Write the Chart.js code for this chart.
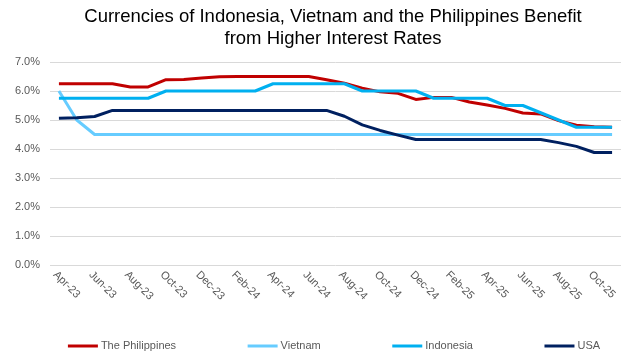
<!DOCTYPE html>
<html lang="en">
<head>
    <meta charset="UTF-8">
    <title>Currencies of Indonesia, Vietnam and the Philippines</title>
    <script src="https://cdn.jsdelivr.net/npm/chart.js"></script>
    <style>
        html, body { margin: 0; padding: 0; background: #fff; }
        #wrap { width: 640px; height: 354px; position: relative; }
    </style>
</head>
<body>
    <div id="wrap">
        <canvas id="ratesChart"></canvas>
    </div>

    <script>
        // Chart data (policy / market rates, %)
        const titleLines = ['Currencies of Indonesia, Vietnam and the Philippines Benefit', 'from Higher Interest Rates'];

        const months = ['Apr-23', 'May-23', 'Jun-23', 'Jul-23', 'Aug-23', 'Sep-23', 'Oct-23', 'Nov-23',
            'Dec-23', 'Jan-24', 'Feb-24', 'Mar-24', 'Apr-24', 'May-24', 'Jun-24', 'Jul-24',
            'Aug-24', 'Sep-24', 'Oct-24', 'Nov-24', 'Dec-24', 'Jan-25', 'Feb-25', 'Mar-25',
            'Apr-25', 'May-25', 'Jun-25', 'Jul-25', 'Aug-25', 'Sep-25', 'Oct-25', 'Nov-25'];

        const philippines = [6.25, 6.25, 6.25, 6.25, 6.14, 6.14, 6.39, 6.40, 6.45, 6.49, 6.50, 6.50, 6.50, 6.50, 6.50, 6.39,
            6.27, 6.10, 5.97, 5.92, 5.71, 5.78, 5.78, 5.62, 5.52, 5.40, 5.24, 5.21, 4.98, 4.82, 4.77, 4.75];
        const vietnam = [6.00, 5.00, 4.50, 4.50, 4.50, 4.50, 4.50, 4.50, 4.50, 4.50, 4.50, 4.50, 4.50, 4.50, 4.50, 4.50,
            4.50, 4.50, 4.50, 4.50, 4.50, 4.50, 4.50, 4.50, 4.50, 4.50, 4.50, 4.50, 4.50, 4.50, 4.50, 4.50];
        const indonesia = [5.75, 5.75, 5.75, 5.75, 5.75, 5.75, 6.00, 6.00, 6.00, 6.00, 6.00, 6.00, 6.25, 6.25, 6.25, 6.25,
            6.25, 6.00, 6.00, 6.00, 6.00, 5.75, 5.75, 5.75, 5.75, 5.50, 5.50, 5.25, 5.00, 4.75, 4.75, 4.75];
        const usa = [5.06, 5.08, 5.12, 5.33, 5.33, 5.33, 5.33, 5.33, 5.33, 5.33, 5.33, 5.33, 5.33, 5.33, 5.33, 5.33,
            5.13, 4.83, 4.64, 4.48, 4.33, 4.33, 4.33, 4.33, 4.33, 4.33, 4.33, 4.33, 4.22, 4.09, 3.88, 3.88];

        const yMin = 0;
        const yMax = 7;
        const yStep = 1;

        const FONT = '"Liberation Sans", Arial, sans-serif';
        const TEXT_GREY = '#595959';

        // Title, slanted month labels and the legend are drawn here
        const chartText = {
            id: 'chartText',
            afterDraw(chart) {
                const ctx = chart.ctx;
                const x = chart.scales.x;
                ctx.save();

                // title
                ctx.fillStyle = '#000';
                ctx.font = '18.5px ' + FONT;
                ctx.textAlign = 'center';
                ctx.textBaseline = 'middle';
                titleLines.forEach((line, i) => ctx.fillText(line, 333, 17 + i * 22));

                // month labels every second month, slanted down to the right
                ctx.fillStyle = TEXT_GREY;
                ctx.font = '11px ' + FONT;
                ctx.textAlign = 'left';
                months.forEach((m, i) => {
                    if (i % 2 !== 0) return;
                    ctx.save();
                    ctx.translate(x.getPixelForValue(i) - 4, 273);
                    ctx.rotate(Math.PI / 4);
                    ctx.fillText(m, 0, 0);
                    ctx.restore();
                });

                // legend
                const gap = 71.5, swatch = 30, y = 346;
                const items = chart.data.datasets.map(ds => ({
                    text: ds.label, color: ds.borderColor,
                    w: swatch + 3 + ctx.measureText(ds.label).width
                }));
                const total = items.reduce((s, it) => s + it.w, 0) + gap * (items.length - 1);
                let lx = 334 - total / 2;
                items.forEach(it => {
                    ctx.strokeStyle = it.color;
                    ctx.lineWidth = 3;
                    ctx.beginPath();
                    ctx.moveTo(lx, y);
                    ctx.lineTo(lx + swatch, y);
                    ctx.stroke();
                    ctx.fillText(it.text, lx + swatch + 3, y);
                    lx += it.w + gap;
                });
                ctx.restore();
            }
        };

        const lineStyle = { borderWidth: 3, pointRadius: 0, tension: 0, borderJoinStyle: 'round', fill: false };

        const ctx = document.getElementById('ratesChart').getContext('2d');
        const ratesChart = new Chart(ctx, {
            type: 'line',
            data: {
                labels: months,
                datasets: [
                    { label: 'The Philippines', data: philippines, borderColor: '#C00000', order: 4, ...lineStyle },
                    { label: 'Vietnam', data: vietnam, borderColor: '#66CCFF', order: 3, ...lineStyle },
                    { label: 'Indonesia', data: indonesia, borderColor: '#00B0F0', order: 2, ...lineStyle },
                    { label: 'USA', data: usa, borderColor: '#002060', order: 1, ...lineStyle }
                ]
            },
            options: {
                responsive: true,
                maintainAspectRatio: false,
                animation: false,
                layout: { padding: { left: 0, right: 19, top: 62, bottom: 89 } },
                plugins: {
                    legend: { display: false },
                    title: { display: false },
                    tooltip: { enabled: false }
                },
                scales: {
                    x: {
                        offset: true,
                        grid: { display: false },
                        border: { display: false },
                        ticks: { display: false },
                        afterFit(scale) { scale.height = 0; }
                    },
                    y: {
                        min: yMin,
                        max: yMax,
                        border: { display: false },
                        grid: { color: '#D9D9D9', lineWidth: 1, drawTicks: false },
                        ticks: {
                            stepSize: yStep,
                            padding: 10,
                            color: TEXT_GREY,
                            font: { family: FONT, size: 11 },
                            callback: v => v.toFixed(1) + '%'
                        },
                        afterFit(scale) { scale.width = 50; }
                    }
                }
            },
            plugins: [chartText]
        });
    </script>
</body>
</html>
